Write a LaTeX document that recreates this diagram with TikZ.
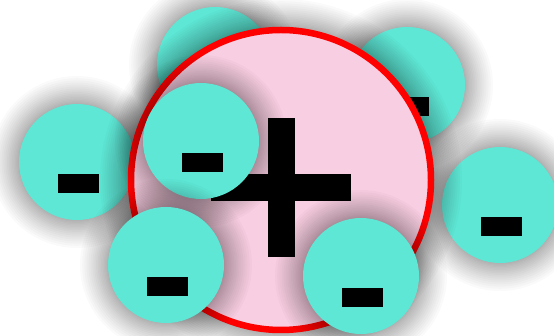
\documentclass[tikz,border=0pt]{standalone}
\definecolor{turq}{HTML}{5EE7D5}
\definecolor{pinkfill}{HTML}{F8CEE2}
\newcommand\softshadow[2]{%
  \foreach \k in {1,...,20}{\fill[black, opacity=0.018] (#1) circle ({#2+30*pow(\k/20,1.5)});}}
\tikzset{
  ion/.style={circle, minimum size=116pt, inner sep=0pt, fill=turq},
  bar/.style={fill=black, minimum width=41pt, minimum height=19pt, inner sep=0pt},
  big/.style={circle, minimum size=300pt, inner sep=0pt, draw=red, line width=6.5pt, fill=pinkfill},
  plusbar/.style={fill=black, inner sep=0pt},
}
\begin{document}
\begin{tikzpicture}[x=1pt,y=-1pt]
\useasboundingbox (0,0) rectangle (554,336);
\fill[white] (0,0) rectangle (554,336);
\coordinate (tlp) at (215,65);
\coordinate (trp) at (407,85);
\coordinate (lp) at (77,162);
\coordinate (rp) at (500,205);
\coordinate (Pp) at (281,180);
\coordinate (ilp) at (201,141);
\coordinate (blp) at (166,265);
\coordinate (brp) at (361,276);
% behind the big circle
\softshadow{tlp}{56}
\node[ion] (tl) at (tlp) {};
\node[bar] (tlm) at ([xshift=1.5pt,yshift=-21.5pt]tl.center) {};
\softshadow{trp}{56}
\node[ion] (tr) at (trp) {};
\node[bar] (trm) at ([xshift=1.5pt,yshift=-21.5pt]tr.center) {};
\softshadow{lp}{56}
\node[ion] (l) at (lp) {};
\node[bar] (lm) at ([xshift=1.5pt,yshift=-21.5pt]l.center) {};
\softshadow{rp}{56}
\node[ion] (r) at (rp) {};
\node[bar] (rm) at ([xshift=1.5pt,yshift=-21.5pt]r.center) {};
% big positive circle
\softshadow{Pp}{151}
\node[big] (P) at (Pp) {};
\node[plusbar, minimum width=27pt, minimum height=139pt] (pv) at ([yshift=-8pt]P.center) {};
\node[plusbar, minimum width=140pt, minimum height=27pt] (ph) at ([yshift=-8pt]P.center) {};
% in front
\softshadow{ilp}{56}
\node[ion] (il) at (ilp) {};
\node[bar] (ilm) at ([xshift=1.5pt,yshift=-21.5pt]il.center) {};
\softshadow{blp}{56}
\node[ion] (bl) at (blp) {};
\node[bar] (blm) at ([xshift=1.5pt,yshift=-21.5pt]bl.center) {};
\softshadow{brp}{56}
\node[ion] (br) at (brp) {};
\node[bar] (brm) at ([xshift=1.5pt,yshift=-21.5pt]br.center) {};
\end{tikzpicture}
\end{document}
